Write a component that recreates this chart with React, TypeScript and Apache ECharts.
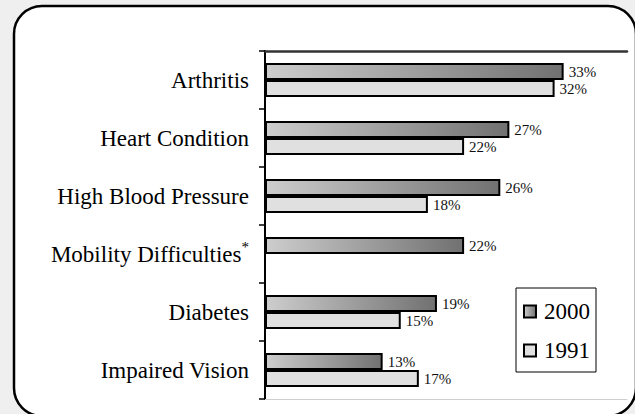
import React, { useEffect, useRef } from "react";
import * as echarts from "echarts";

const categories = [
  "Arthritis",
  "Heart Condition",
  "High Blood Pressure",
  "Mobility Difficulties*",
  "Diabetes",
  "Impaired Vision",
];
const seriesNames = ["2000", "1991"];
const values2000 = [33, 27, 26, 22, 19, 13];
const values1991: (number | null)[] = [32, 22, 18, null, 15, 17];

const SERIF = "'Liberation Serif', 'Times New Roman', serif";

export default function App() {
  const ref = useRef<HTMLDivElement>(null);
  useEffect(() => {
    if (!ref.current) return;
    const chart = echarts.init(ref.current, undefined, { renderer: "svg" });
    const labelCfg = {
      show: true,
      position: "right" as const,
      distance: 5,
      fontFamily: SERIF,
      fontSize: 15,
      color: "#111",
      formatter: (p: any) => `${p.value}%`,
    };
    chart.setOption({
      animation: false,
      backgroundColor: "transparent",
      graphic: [
        {
          type: "rect",
          z: -10,
          silent: true,
          shape: { x: 14, y: 6, width: 622, height: 410, r: 28 },
          style: { fill: "#fff", stroke: "#000", lineWidth: 2.5 },
        },
      ],
      grid: { left: 265, top: 51, width: 362, height: 348, containLabel: false },
      legend: {
        data: seriesNames,
        orient: "vertical",
        left: 516,
        top: 288,
        itemWidth: 12,
        itemHeight: 12,
        itemGap: 16,
        padding: [12, 6, 10, 7],
        borderColor: "#000",
        borderWidth: 1,
        backgroundColor: "#fff",
        icon: "rect",
        textStyle: { fontFamily: SERIF, fontSize: 23, color: "#000", padding: [0, 0, 0, 3] },
      },
      xAxis: [
        {
          type: "value",
          position: "top",
          min: 0,
          max: 40,
          axisLine: { show: true, lineStyle: { color: "#333", width: 2.5 } },
          axisTick: { show: false },
          axisLabel: { show: false },
          splitLine: { show: false },
        },
        {
          type: "value",
          position: "bottom",
          min: 0,
          max: 40,
          axisLine: { show: true, lineStyle: { color: "#cfcfcf", width: 1 } },
          axisTick: { show: false },
          axisLabel: { show: false },
          splitLine: { show: false },
        },
      ],
      yAxis: {
        type: "category",
        data: categories,
        inverse: true,
        axisLine: { show: true, lineStyle: { color: "#000", width: 2 } },
        axisTick: { show: true, length: 6, lineStyle: { color: "#000", width: 1.5 } },
        axisLabel: {
          margin: 16,
          fontFamily: SERIF,
          fontSize: 23,
          color: "#000",
          formatter: (v: string) =>
            v.endsWith("*") ? `{a|${v.slice(0, -1)}}{s|*}` : `{a|${v}}`,
          rich: {
            a: { fontFamily: SERIF, fontSize: 23, color: "#000" },
            s: {
              fontFamily: SERIF,
              fontSize: 15,
              color: "#000",
              verticalAlign: "top",
              padding: [0, 0, 14, 0],
            },
          },
        },
      },
      series: [
        {
          name: seriesNames[0],
          type: "bar",
          data: values2000,
          barWidth: 17,
          barGap: "0%",
          itemStyle: {
            color: new echarts.graphic.LinearGradient(0, 0, 1, 0, [
              { offset: 0, color: "#cdcdcd" },
              { offset: 1, color: "#717171" },
            ]),
            borderColor: "#000",
            borderWidth: 2,
          },
          label: labelCfg,
        },
        {
          name: seriesNames[1],
          type: "bar",
          data: values1991,
          barWidth: 17,
          barGap: "0%",
          itemStyle: {
            color: "#e0e0e0",
            borderColor: "#000",
            borderWidth: 2,
          },
          label: labelCfg,
        },
      ],
    });
    return () => chart.dispose();
  }, []);
  return (
    <div
      style={{
        position: "fixed",
        left: 0,
        top: 0,
        width: 635,
        height: 414,
        background: "#efefef",
      }}
    >
      <div ref={ref} style={{ width: 635, height: 414 }} />
    </div>
  );
}
